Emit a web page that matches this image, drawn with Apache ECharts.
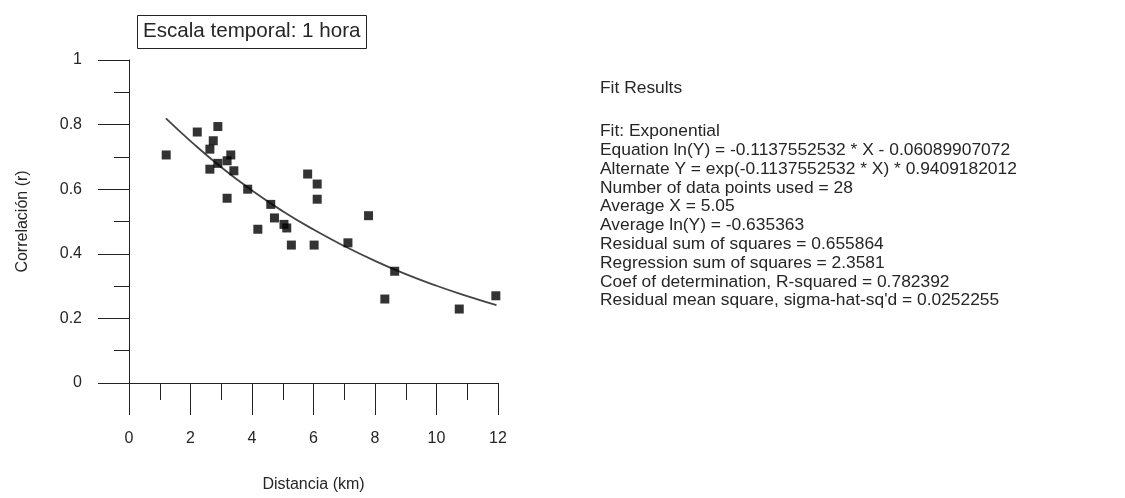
<!DOCTYPE html>
<html>
<head>
<meta charset="utf-8">
<script src="https://cdn.jsdelivr.net/npm/echarts@6/dist/echarts.min.js"></script>
<style>
html,body{margin:0;padding:0;background:#fff;}
#chart{width:1125px;height:498px;}
</style>
</head>
<body>
<div id="chart"></div>
<script>
// Data
var distanceKm = [1.21, 2.22, 2.89, 2.74, 2.63, 3.31, 3.19, 2.89, 2.63, 3.41,
                  3.86, 3.19, 4.61, 4.73, 4.19, 5.04, 5.13, 5.28, 6.02, 5.81,
                  6.12, 6.12, 7.79, 7.12, 8.64, 8.32, 11.93, 10.74];
var correlation = [0.706, 0.777, 0.794, 0.750, 0.724, 0.706, 0.688, 0.680, 0.662, 0.657,
                   0.600, 0.572, 0.553, 0.511, 0.476, 0.491, 0.480, 0.427, 0.427, 0.647,
                   0.616, 0.569, 0.518, 0.434, 0.346, 0.260, 0.270, 0.229];
// Fitted curve
var fitX = [1.2, 2, 3, 4, 5, 6, 7, 8, 9, 10, 11, 11.95];
var fitY = [0.819, 0.749, 0.668, 0.596, 0.532, 0.475, 0.424, 0.378, 0.337, 0.301, 0.269, 0.241];

var titleText = 'Escala temporal: 1 hora';
var xName = 'Distancia (km)';
var yName = 'Correlación (r)';
var fitHeader = 'Fit Results';
var fitLines = [
  'Fit: Exponential',
  'Equation ln(Y) = -0.1137552532 * X - 0.06089907072',
  'Alternate Y = exp(-0.1137552532 * X) * 0.9409182012',
  'Number of data points used = 28',
  'Average X = 5.05',
  'Average ln(Y) = -0.635363',
  'Residual sum of squares = 0.655864',
  'Regression sum of squares = 2.3581',
  'Coef of determination, R-squared = 0.782392',
  "Residual mean square, sigma-hat-sq'd = 0.0252255"
];

var FONT = '"Liberation Sans", Arial, sans-serif';
var INK = '#262626';

var scatterData = distanceKm.map(function (x, i) { return [x, correlation[i]]; });
var fitData = fitX.map(function (x, i) { return [x, fitY[i]]; });

var chart = echarts.init(document.getElementById('chart'), null, {renderer: 'canvas'});
chart.setOption({
  backgroundColor: '#fff',
  animation: false,
  textStyle: {fontFamily: FONT},
  title: {
    text: titleText,
    left: 137,
    top: 15,
    padding: [6, 6, 7, 6],
    borderColor: '#222',
    borderWidth: 1,
    textStyle: {fontFamily: FONT, fontSize: 20.6, fontWeight: 'normal', color: INK}
  },
  grid: {left: 129, right: 627, top: 60, bottom: 106, containLabel: false},
  xAxis: {
    type: 'value', min: 0, max: 12, interval: 2,
    name: xName, nameLocation: 'middle', nameGap: 94,
    nameTextStyle: {fontFamily: FONT, fontSize: 16, color: INK},
    axisLine: {show: true, onZero: false, lineStyle: {color: '#222', width: 1}},
    axisTick: {show: true, inside: false, length: 32, lineStyle: {color: '#222', width: 1}},
    minorTick: {show: true, splitNumber: 2, length: 17, lineStyle: {color: '#222', width: 1}},
    splitLine: {show: false},
    axisLabel: {margin: 48, fontFamily: FONT, fontSize: 16, color: INK}
  },
  yAxis: {
    type: 'value', min: 0, max: 1, interval: 0.2,
    name: yName, nameLocation: 'middle', nameGap: 98,
    nameTextStyle: {fontFamily: FONT, fontSize: 16, color: INK},
    axisLine: {show: true, onZero: false, lineStyle: {color: '#222', width: 1}},
    axisTick: {show: true, inside: false, length: 31, lineStyle: {color: '#222', width: 1}},
    minorTick: {show: true, splitNumber: 2, length: 15, lineStyle: {color: '#222', width: 1}},
    splitLine: {show: false},
    axisLabel: {margin: 47, fontFamily: FONT, fontSize: 16, color: INK}
  },
  graphic: [
    {type: 'text', left: 600, top: 80, style: {text: fitHeader, font: '17.4px ' + FONT, fill: INK}},
    {type: 'text', left: 600, top: 122, style: {text: fitLines.join('\n'), font: '17.4px ' + FONT, lineHeight: 18.8, fill: INK}}
  ],
  series: [
    {
      type: 'line', data: fitData, smooth: true, showSymbol: false, symbol: 'none',
      lineStyle: {color: '#444', width: 1.8}, z: 2, silent: true
    },
    {
      type: 'scatter', data: scatterData, symbol: 'rect', symbolSize: 9,
      itemStyle: {color: '#000'}, z: 3, silent: true
    }
  ]
});
</script>
</body>
</html>
